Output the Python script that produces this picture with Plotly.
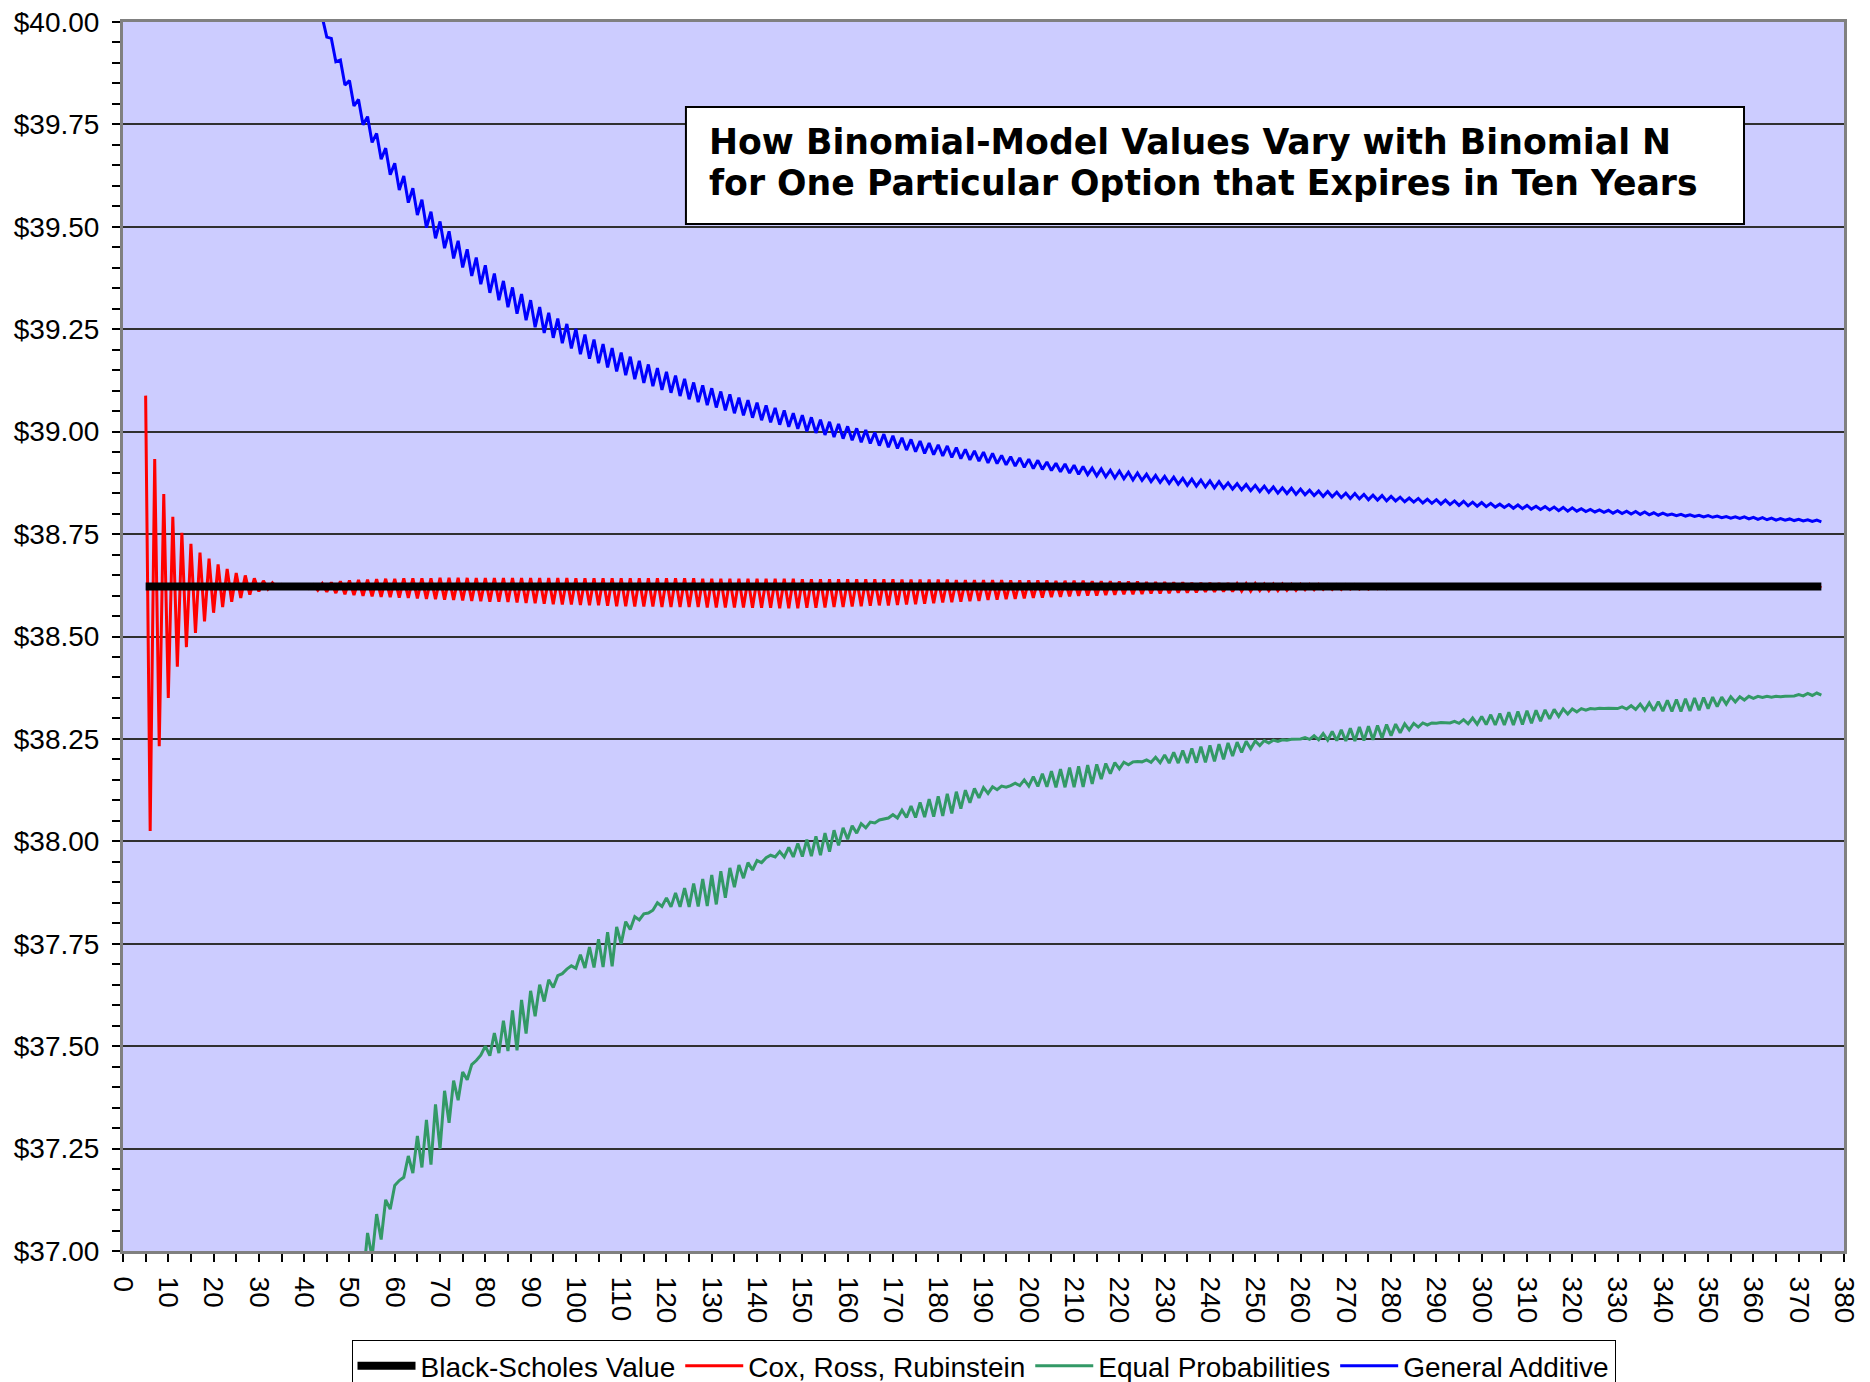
import plotly.graph_objects as go

# Binomial N on the x axis, option value in dollars on the y axis
bs_n = [5, 375]
bs_value = [38.622, 38.622]

crr_start = 5
crr_value = [
    39.088, 38.025, 38.933, 38.232, 38.848, 38.350, 38.792, 38.426, 38.753, 38.474,
    38.726, 38.509, 38.705, 38.537, 38.690, 38.558, 38.676, 38.572, 38.665, 38.585,
    38.655, 38.594, 38.649, 38.602, 38.642, 38.610, 38.636, 38.616, 38.631, 38.619,
    38.627, 38.620, 38.624, 38.621, 38.622, 38.621, 38.617, 38.626, 38.613, 38.629,
    38.609, 38.632, 38.606, 38.635, 38.603, 38.637, 38.601, 38.638, 38.599, 38.639,
    38.598, 38.640, 38.597, 38.641, 38.596, 38.641, 38.595, 38.642, 38.594, 38.642,
    38.593, 38.642, 38.592, 38.642, 38.591, 38.643, 38.590, 38.643, 38.589, 38.643,
    38.588, 38.643, 38.587, 38.643, 38.586, 38.643, 38.585, 38.643, 38.585, 38.643,
    38.584, 38.643, 38.583, 38.643, 38.582, 38.643, 38.581, 38.643, 38.580, 38.643,
    38.579, 38.643, 38.578, 38.643, 38.578, 38.642, 38.577, 38.642, 38.576, 38.642,
    38.576, 38.642, 38.575, 38.642, 38.574, 38.642, 38.574, 38.642, 38.573, 38.642,
    38.573, 38.642, 38.573, 38.642, 38.572, 38.642, 38.572, 38.642, 38.572, 38.642,
    38.572, 38.642, 38.572, 38.641, 38.571, 38.641, 38.571, 38.641, 38.571, 38.641,
    38.571, 38.641, 38.571, 38.641, 38.570, 38.641, 38.570, 38.641, 38.570, 38.641,
    38.569, 38.641, 38.569, 38.641, 38.569, 38.640, 38.570, 38.640, 38.570, 38.640,
    38.571, 38.640, 38.572, 38.640, 38.572, 38.640, 38.573, 38.640, 38.574, 38.640,
    38.575, 38.640, 38.576, 38.640, 38.576, 38.640, 38.577, 38.639, 38.578, 38.639,
    38.579, 38.639, 38.580, 38.639, 38.581, 38.639, 38.583, 38.639, 38.584, 38.638,
    38.585, 38.638, 38.586, 38.638, 38.587, 38.638, 38.589, 38.638, 38.590, 38.638,
    38.591, 38.637, 38.592, 38.637, 38.593, 38.637, 38.594, 38.637, 38.595, 38.637,
    38.596, 38.636, 38.597, 38.636, 38.598, 38.636, 38.599, 38.636, 38.600, 38.635,
    38.600, 38.635, 38.601, 38.635, 38.602, 38.634, 38.603, 38.634, 38.603, 38.634,
    38.604, 38.633, 38.605, 38.633, 38.605, 38.633, 38.606, 38.632, 38.607, 38.632,
    38.607, 38.631, 38.608, 38.631, 38.609, 38.631, 38.609, 38.630, 38.610, 38.630,
    38.610, 38.629, 38.611, 38.629, 38.611, 38.629, 38.612, 38.628, 38.612, 38.628,
    38.612, 38.628, 38.613, 38.627, 38.613, 38.627, 38.614, 38.627, 38.614, 38.627,
    38.615, 38.626, 38.615, 38.626, 38.615, 38.626, 38.616, 38.626, 38.616, 38.625,
    38.616, 38.625, 38.617, 38.625, 38.617, 38.625, 38.618, 38.624, 38.618, 38.624,
    38.618, 38.624, 38.618, 38.624, 38.618, 38.624, 38.618, 38.624, 38.618, 38.624,
    38.618, 38.624, 38.618, 38.624, 38.618, 38.624, 38.618, 38.624, 38.618, 38.624,
    38.618, 38.624, 38.618, 38.624, 38.618, 38.624, 38.618, 38.624, 38.618, 38.624,
    38.618, 38.624, 38.618, 38.624, 38.618, 38.624, 38.619, 38.624, 38.619, 38.624,
    38.619, 38.624, 38.619, 38.624, 38.619, 38.624, 38.619, 38.624, 38.619, 38.624,
    38.619, 38.624, 38.619, 38.624, 38.619, 38.624, 38.619, 38.624, 38.619, 38.624,
    38.619, 38.624, 38.619, 38.624, 38.619, 38.624, 38.619, 38.624, 38.619, 38.624,
    38.619, 38.624, 38.619, 38.624, 38.619, 38.624, 38.619, 38.624, 38.619, 38.624,
    38.619, 38.624, 38.619, 38.624, 38.619, 38.624, 38.619, 38.624, 38.619, 38.624,
    38.619,
]

ep_start = 53
ep_value = [
    36.930, 37.044, 36.985, 37.090, 37.028, 37.125, 37.102, 37.160, 37.172, 37.180,
    37.232, 37.190, 37.281, 37.204, 37.320, 37.211, 37.358, 37.249, 37.391, 37.313,
    37.416, 37.368, 37.437, 37.418, 37.455, 37.465, 37.478, 37.500, 37.477, 37.532,
    37.483, 37.562, 37.488, 37.587, 37.490, 37.613, 37.531, 37.635, 37.573, 37.650,
    37.609, 37.662, 37.643, 37.672, 37.677, 37.688, 37.696, 37.690, 37.723, 37.691,
    37.742, 37.692, 37.761, 37.693, 37.778, 37.695, 37.791, 37.750, 37.804, 37.785,
    37.816, 37.808, 37.823, 37.825, 37.832, 37.850, 37.841, 37.862, 37.840, 37.874,
    37.840, 37.886, 37.840, 37.897, 37.841, 37.908, 37.842, 37.918, 37.846, 37.927,
    37.862, 37.935, 37.888, 37.942, 37.910, 37.948, 37.930, 37.953, 37.948, 37.960,
    37.966, 37.962, 37.975, 37.962, 37.985, 37.962, 37.995, 37.963, 38.004, 37.964,
    38.012, 37.966, 38.020, 37.975, 38.027, 37.990, 38.033, 38.005, 38.038, 38.020,
    38.043, 38.033, 38.047, 38.045, 38.052, 38.055, 38.057, 38.065, 38.057, 38.076,
    38.058, 38.086, 38.058, 38.095, 38.059, 38.103, 38.060, 38.110, 38.062, 38.116,
    38.068, 38.121, 38.080, 38.125, 38.094, 38.129, 38.106, 38.131, 38.117, 38.133,
    38.126, 38.135, 38.132, 38.136, 38.142, 38.136, 38.150, 38.135, 38.158, 38.134,
    38.165, 38.133, 38.171, 38.132, 38.176, 38.132, 38.180, 38.132, 38.183, 38.133,
    38.186, 38.140, 38.188, 38.152, 38.190, 38.165, 38.192, 38.177, 38.193, 38.187,
    38.194, 38.195, 38.194, 38.199, 38.193, 38.205, 38.192, 38.211, 38.191, 38.217,
    38.191, 38.222, 38.191, 38.227, 38.192, 38.231, 38.193, 38.234, 38.195, 38.237,
    38.200, 38.240, 38.208, 38.242, 38.217, 38.244, 38.226, 38.245, 38.234, 38.246,
    38.240, 38.247, 38.244, 38.248, 38.247, 38.249, 38.249, 38.250, 38.253, 38.249,
    38.258, 38.248, 38.263, 38.247, 38.268, 38.246, 38.272, 38.245, 38.276, 38.245,
    38.279, 38.246, 38.281, 38.248, 38.283, 38.252, 38.285, 38.258, 38.286, 38.265,
    38.287, 38.272, 38.288, 38.279, 38.289, 38.284, 38.289, 38.288, 38.290, 38.290,
    38.289, 38.293, 38.288, 38.297, 38.287, 38.301, 38.286, 38.305, 38.285, 38.309,
    38.284, 38.312, 38.284, 38.315, 38.284, 38.317, 38.285, 38.319, 38.288, 38.320,
    38.293, 38.321, 38.299, 38.322, 38.305, 38.323, 38.311, 38.323, 38.316, 38.324,
    38.320, 38.324, 38.323, 38.325, 38.324, 38.325, 38.325, 38.324, 38.328, 38.323,
    38.331, 38.322, 38.335, 38.320, 38.338, 38.319, 38.341, 38.318, 38.344, 38.317,
    38.346, 38.317, 38.348, 38.318, 38.350, 38.320, 38.351, 38.324, 38.352, 38.329,
    38.352, 38.335, 38.353, 38.340, 38.353, 38.345, 38.354, 38.349, 38.354, 38.351,
    38.354, 38.352, 38.354, 38.353, 38.354, 38.354, 38.355, 38.358, 38.355, 38.361,
    38.356, 38.362, 38.357,
]

ga_start = 43
ga_value = [
    40.060, 40.010, 39.963, 39.960, 39.903, 39.907, 39.846, 39.857, 39.795, 39.811,
    39.749, 39.769, 39.706, 39.728, 39.665, 39.692, 39.627, 39.655, 39.590, 39.624,
    39.559, 39.594, 39.529, 39.566, 39.498, 39.537, 39.472, 39.513, 39.448, 39.489,
    39.423, 39.466, 39.401, 39.445, 39.380, 39.425, 39.360, 39.406, 39.339, 39.386,
    39.321, 39.368, 39.304, 39.352, 39.288, 39.336, 39.272, 39.321, 39.255, 39.304,
    39.241, 39.290, 39.229, 39.276, 39.216, 39.263, 39.203, 39.251, 39.189, 39.237,
    39.178, 39.225, 39.167, 39.214, 39.157, 39.204, 39.147, 39.193, 39.138, 39.183,
    39.128, 39.173, 39.119, 39.164, 39.111, 39.155, 39.102, 39.146, 39.095, 39.137,
    39.087, 39.129, 39.079, 39.120, 39.072, 39.113, 39.065, 39.106, 39.059, 39.098,
    39.052, 39.091, 39.045, 39.083, 39.040, 39.077, 39.034, 39.071, 39.028, 39.064,
    39.023, 39.058, 39.017, 39.052, 39.012, 39.045, 39.007, 39.040, 39.001, 39.035,
    38.997, 39.029, 38.992, 39.024, 38.987, 39.019, 38.983, 39.013, 38.979, 39.008,
    38.974, 39.004, 38.971, 38.998, 38.966, 38.994, 38.962, 38.990, 38.959, 38.985,
    38.955, 38.981, 38.951, 38.977, 38.947, 38.972, 38.944, 38.968, 38.941, 38.965,
    38.937, 38.961, 38.934, 38.957, 38.931, 38.953, 38.928, 38.950, 38.924, 38.947,
    38.922, 38.942, 38.919, 38.939, 38.916, 38.936, 38.913, 38.933, 38.910, 38.930,
    38.908, 38.926, 38.905, 38.923, 38.902, 38.921, 38.899, 38.918, 38.896, 38.915,
    38.895, 38.911, 38.892, 38.909, 38.890, 38.906, 38.887, 38.904, 38.885, 38.901,
    38.882, 38.899, 38.881, 38.896, 38.878, 38.893, 38.876, 38.891, 38.874, 38.889,
    38.872, 38.886, 38.869, 38.884, 38.867, 38.882, 38.865, 38.880, 38.863, 38.878,
    38.862, 38.875, 38.860, 38.873, 38.858, 38.871, 38.856, 38.869, 38.854, 38.867,
    38.852, 38.865, 38.850, 38.863, 38.849, 38.862, 38.847, 38.860, 38.846, 38.857,
    38.844, 38.855, 38.842, 38.854, 38.841, 38.852, 38.839, 38.850, 38.837, 38.849,
    38.836, 38.847, 38.834, 38.845, 38.833, 38.844, 38.831, 38.842, 38.831, 38.840,
    38.829, 38.838, 38.828, 38.837, 38.826, 38.835, 38.825, 38.834, 38.823, 38.833,
    38.822, 38.831, 38.820, 38.830, 38.819, 38.828, 38.818, 38.827, 38.817, 38.825,
    38.816, 38.823, 38.815, 38.822, 38.813, 38.821, 38.812, 38.820, 38.811, 38.818,
    38.810, 38.817, 38.809, 38.816, 38.807, 38.815, 38.806, 38.814, 38.806, 38.812,
    38.805, 38.810, 38.804, 38.809, 38.803, 38.808, 38.801, 38.807, 38.800, 38.806,
    38.799, 38.805, 38.798, 38.804, 38.797, 38.802, 38.796, 38.801, 38.796, 38.799,
    38.795, 38.798, 38.794, 38.797, 38.793, 38.796, 38.792, 38.795, 38.791, 38.794,
    38.790, 38.793, 38.789, 38.792, 38.788, 38.792, 38.787, 38.791, 38.786, 38.790,
    38.785, 38.789, 38.784, 38.788, 38.784, 38.787, 38.783, 38.786, 38.782, 38.785,
    38.781, 38.784, 38.780,
]

title_lines = [
    "How Binomial-Model Values Vary with Binomial N",
    "for One Particular Option that Expires in Ten Years",
]

crr_n = list(range(crr_start, crr_start + len(crr_value)))
ep_n = list(range(ep_start, ep_start + len(ep_value)))
ga_n = list(range(ga_start, ga_start + len(ga_value)))

font_family = "Arial, Liberation Sans, sans-serif"

fig = go.Figure()
fig.add_trace(go.Scatter(x=crr_n, y=crr_value, mode="lines", name="Cox, Ross, Rubinstein",
                         line=dict(color="#FF0000", width=3), legendrank=2))
fig.add_trace(go.Scatter(x=ep_n, y=ep_value, mode="lines", name="Equal Probabilities",
                         line=dict(color="#339966", width=3), legendrank=3))
fig.add_trace(go.Scatter(x=ga_n, y=ga_value, mode="lines", name="General Additive",
                         line=dict(color="#0000FF", width=3), legendrank=4))
fig.add_trace(go.Scatter(x=bs_n, y=bs_value, mode="lines", name="Black-Scholes Value",
                         line=dict(color="#000000", width=8), legendrank=1))

# title box drawn inside the plot area
fig.add_shape(type="rect", xref="paper", yref="paper",
              x0=0.3271, x1=0.9419, y0=0.8356, y1=0.9308,
              line=dict(color="#000000", width=2), fillcolor="#FFFFFF", layer="above")
for line_text, y_pos in zip(title_lines, [0.9027, 0.8686]):
    fig.add_annotation(xref="paper", yref="paper", x=0.3393, y=y_pos,
                       xanchor="left", yanchor="middle", align="left", showarrow=False,
                       text=line_text,
                       font=dict(family="DejaVu Sans", size=34.7, color="#000000", weight="bold"))

# the page body adds an 8 px offset, margins account for it
fig.update_layout(
    width=1870, height=1382,
    margin=dict(l=115, r=34, t=14, b=139, autoexpand=False),
    paper_bgcolor="#FFFFFF",
    plot_bgcolor="#CCCCFF",
    font=dict(family=font_family, size=28, color="#000000"),
    showlegend=True,
    legend=dict(orientation="h", x=0.5, xanchor="center", y=-0.0725, yanchor="top",
                bgcolor="#FFFFFF", bordercolor="#000000", borderwidth=1,
                itemwidth=58, font=dict(size=28), traceorder="normal"),
    # second x axis only to draw the upward half of the crossing ticks
    xaxis2=dict(overlaying="x", anchor="y", side="bottom", range=[0, 380], dtick=10, tick0=0,
                showticklabels=False, showgrid=False, zeroline=False, showline=False,
                ticks="inside", ticklen=6, tickcolor="#000000", tickwidth=1.5,
                minor=dict(dtick=5, ticks="inside", ticklen=6, tickcolor="#000000", tickwidth=1.5)),
)

fig.layout.xaxis.update(
    range=[0, 380], dtick=10, tick0=0, tickangle=90,
    showgrid=False, zeroline=False,
    showline=True, linecolor="#808080", linewidth=3, mirror=True,
    ticks="outside", ticklen=8, tickcolor="#000000", tickwidth=1.5,
    ticklabelstandoff=9, ticklabeloverflow="allow",
    minor=dict(dtick=5, ticks="outside", ticklen=8, tickcolor="#000000", tickwidth=1.5),
)
fig.update_yaxes(
    range=[37, 40], dtick=0.25, tick0=37, tickprefix="$", tickformat=".2f",
    showgrid=True, gridcolor="#303030", gridwidth=1.5, zeroline=False,
    showline=True, linecolor="#808080", linewidth=3, mirror=True,
    ticks="outside", ticklen=8, tickcolor="#000000", tickwidth=1.5,
    ticklabelstandoff=7, ticklabeloverflow="allow",
    minor=dict(dtick=0.05, ticks="outside", ticklen=8, tickcolor="#000000", tickwidth=1.5,
               showgrid=False),
)

fig.write_html("out.html")
